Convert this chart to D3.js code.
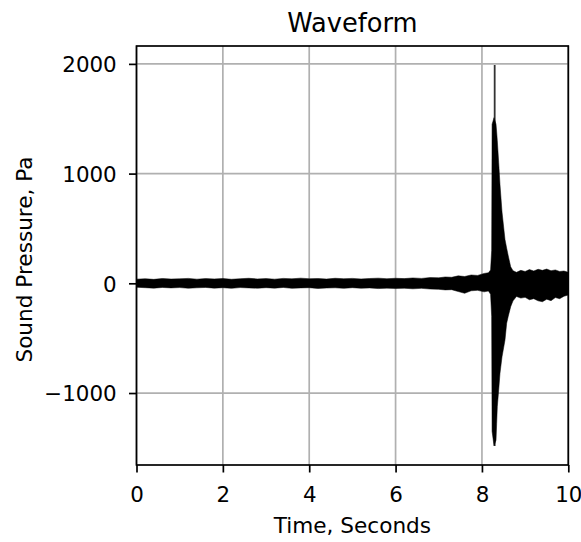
<!DOCTYPE html>
<html>
<head>
<meta charset="utf-8">
<script src="https://cdn.jsdelivr.net/npm/d3@7"></script>
<style>
html,body{margin:0;padding:0;background:#fff;}
svg{display:block;font-family:"DejaVu Sans",sans-serif;}
</style>
</head>
<body>
<svg id="chart" width="581" height="542"></svg>
<script>
// ---- data ----
const title = "Waveform";
const xLabel = "Time, Seconds";
const yLabel = "Sound Pressure, Pa";
const xTicks = [0, 2, 4, 6, 8, 10];
const yTicks = [-1000, 0, 1000, 2000];
const xDomain = [0, 10];
const yDomain = [-1656, 2163];
// envelope of the waveform: time (s), upper and lower sound pressure (Pa)
const envTime  = [0.0, 0.2, 0.4, 0.6, 0.8, 1.0, 1.2, 1.4, 1.6, 1.8, 2.0, 2.2, 2.4, 2.6, 2.8, 3.0, 3.2, 3.4, 3.6, 3.8, 4.0, 4.2, 4.4, 4.6, 4.8, 5.0, 5.2, 5.4, 5.6, 5.8, 6.0, 6.2, 6.4, 6.6, 6.8, 7.0, 7.15, 7.3, 7.45, 7.6, 7.75, 7.9, 8.05, 8.15, 8.2, 8.225, 8.235, 8.28, 8.326, 8.341, 8.356, 8.388, 8.418, 8.465, 8.534, 8.573, 8.61, 8.666, 8.72, 8.8, 8.9, 9.0, 9.1, 9.2, 9.3, 9.4, 9.5, 9.6, 9.7, 9.8, 9.9, 10.0];
const envUpper = [38, 42, 36, 44, 39, 41, 45, 38, 43, 40, 44, 37, 42, 46, 40, 43, 38, 45, 41, 47, 42, 44, 39, 46, 42, 45, 40, 44, 47, 42, 46, 43, 49, 45, 52, 50, 58, 55, 68, 62, 76, 72, 90, 96, 121, 300, 1450, 1510, 1450, 1380, 1300, 1100, 900, 650, 400, 320, 250, 150, 115, 100, 118, 108, 125, 112, 128, 118, 130, 115, 122, 108, 112, 100];
const envLower = [-36, -40, -44, -38, -42, -39, -45, -41, -38, -44, -40, -46, -39, -42, -45, -40, -44, -38, -46, -42, -40, -47, -43, -41, -46, -40, -45, -42, -48, -44, -47, -45, -50, -46, -52, -55, -60, -58, -75, -91, -68, -64, -78, -70, -100, -300, -1350, -1480, -1430, -1277, -1125, -972, -820, -670, -517, -363, -300, -213, -160, -120, -135, -128, -150, -140, -160, -168, -145, -158, -130, -140, -118, -107];
// single-sample extremes of the spike
const peakTime = [8.295];
const peakMax = [1989];
const peakMin = [-1483];

// ---- layout ----
const svg = d3.select("#chart");
const L = 136.5, R = 568.3, T = 46, B = 465;
const x = d3.scaleLinear().domain(xDomain).range([L, R]);
const y = d3.scaleLinear().domain(yDomain).range([B, T]);

// grid
const grid = svg.append("g");
grid.selectAll("line.gx").data(xTicks).enter().append("line")
  .attr("x1", d => x(d)).attr("x2", d => x(d)).attr("y1", T).attr("y2", B)
  .attr("stroke", "#b0b0b0").attr("stroke-width", 1.7);
grid.selectAll("line.gy").data(yTicks).enter().append("line")
  .attr("x1", L).attr("x2", R).attr("y1", d => y(d)).attr("y2", d => y(d))
  .attr("stroke", "#b0b0b0").attr("stroke-width", 1.7);

// clip
svg.append("clipPath").attr("id", "clip").append("rect")
  .attr("x", L).attr("y", T).attr("width", R - L).attr("height", B - T);

const dg = svg.append("g").attr("clip-path", "url(#clip)");
// thin single-sample spike drawn first, the dense envelope covers it
dg.selectAll("line.peak").data(peakTime).enter().append("line")
  .attr("x1", d => x(d)).attr("x2", d => x(d))
  .attr("y1", (d, i) => y(peakMax[i])).attr("y2", (d, i) => y(peakMin[i]))
  .attr("stroke", "#333").attr("stroke-width", 1.8);
const env = envTime.map((t, i) => ({t, hi: envUpper[i], lo: envLower[i]}));
const area = d3.area().x(d => x(d.t)).y0(d => y(d.lo)).y1(d => y(d.hi));
dg.append("path").datum(env).attr("d", area)
  .attr("fill", "#000").attr("stroke", "#000").attr("stroke-width", 0.5).attr("stroke-linejoin", "round");

// spines
svg.append("rect").attr("x", L).attr("y", T).attr("width", R - L).attr("height", B - T)
  .attr("fill", "none").attr("stroke", "#000").attr("stroke-width", 1.7);

// axes
const xAxis = d3.axisBottom(x).tickValues(xTicks).tickSize(7.5).tickFormat(d3.format("d"));
const gx = svg.append("g").attr("transform", `translate(0,${B})`).call(xAxis);
gx.select(".domain").remove();
gx.selectAll(".tick line").attr("stroke", "#000").attr("stroke-width", 1.7);
gx.selectAll(".tick text").attr("y", 36.5).attr("dy", 0)
  .attr("font-size", 21.4).attr("font-family", "DejaVu Sans").attr("fill", "#000");

const fmtY = d => d < 0 ? "\u2212" + Math.abs(d) : String(d);
const yAxis = d3.axisLeft(y).tickValues(yTicks).tickSize(7.5).tickFormat(fmtY);
const gy = svg.append("g").attr("transform", `translate(${L},0)`).call(yAxis);
gy.select(".domain").remove();
gy.selectAll(".tick line").attr("stroke", "#000").attr("stroke-width", 1.7);
gy.selectAll(".tick text").attr("x", -19.8).attr("dy", "0.36em")
  .attr("font-size", 21.4).attr("font-family", "DejaVu Sans").attr("fill", "#000");

// title & labels
svg.append("text").attr("x", (L + R) / 2).attr("y", 32).attr("text-anchor", "middle")
  .attr("font-size", 25.7).attr("fill", "#000").text(title);
svg.append("text").attr("x", (L + R) / 2).attr("y", 533).attr("text-anchor", "middle")
  .attr("font-size", 21.6).attr("fill", "#000").text(xLabel);
svg.append("text").attr("transform", `translate(31.5,${(T + B) / 2 + 4}) rotate(-90)`)
  .attr("text-anchor", "middle").attr("font-size", 21.6).attr("fill", "#000").text(yLabel);
</script>
</body>
</html>
